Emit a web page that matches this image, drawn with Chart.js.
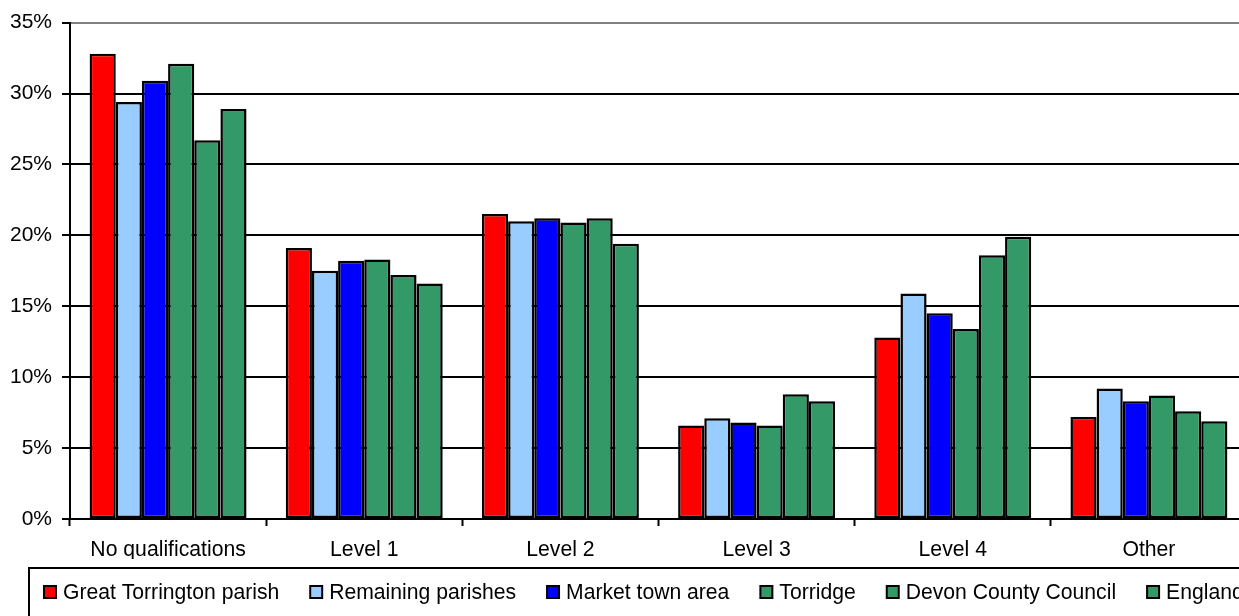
<!DOCTYPE html>
<html>
<head>
<meta charset="utf-8">
<script src="https://cdn.jsdelivr.net/npm/chart.js@4"></script>
<style>
  html, body { margin: 0; padding: 0; background: #fff; overflow: hidden; }
  #wrap { width: 1250px; height: 616px; }
</style>
</head>
<body>
<div id="wrap"><canvas id="qualChart" width="1250" height="616"></canvas></div>
<script>
// Highest qualification held, share of residents aged 16+
const categories = ['No qualifications', 'Level 1', 'Level 2', 'Level 3', 'Level 4', 'Other'];
const seriesNames = ['Great Torrington parish', 'Remaining parishes', 'Market town area', 'Torridge', 'Devon County Council', 'England'];
const seriesColors = ['#FF0000', '#99CCFF', '#0000FF', '#339966', '#339966', '#339966'];

const greatTorrington = [32.8, 19.1, 21.5, 6.6, 12.8, 7.2];
const remainingParishes = [29.4, 17.5, 21.0, 7.1, 15.9, 9.2];
const marketTownArea = [30.9, 18.2, 21.2, 6.8, 14.5, 8.3];
const torridge = [32.1, 18.3, 20.9, 6.6, 13.4, 8.7];
const devonCounty = [26.7, 17.2, 21.2, 8.8, 18.6, 7.6];
const england = [28.9, 16.6, 19.4, 8.3, 19.9, 6.9];

const yTicks = [0, 5, 10, 15, 20, 25, 30, 35];

const FONT = '"Liberation Sans", Arial, sans-serif';

// Boxed legend along the bottom edge
const boxedLegend = {
    id: 'boxedLegend',
    afterDraw(chart) {
        const c = chart.ctx;
        c.save();
        c.strokeStyle = '#000';
        c.lineWidth = 2;
        c.strokeRect(29, 568, chart.width + 20, 80);

        c.font = '21.15px ' + FONT;
        c.textBaseline = 'middle';
        let x = 44;
        const y = 592;
        chart.data.datasets.forEach(ds => {
            c.fillStyle = ds.backgroundColor;
            c.fillRect(x, y - 6, 12, 12);
            c.strokeStyle = '#000';
            c.lineWidth = 2;
            c.strokeRect(x, y - 6, 12, 12);
            c.fillStyle = '#000';
            c.fillText(ds.label, x + 19, y + 1);
            x += 19 + c.measureText(ds.label).width + 31;
        });
        c.restore();
    }
};

const allSeries = [greatTorrington, remainingParishes, marketTownArea, torridge, devonCounty, england];

new Chart(document.getElementById('qualChart'), {
    type: 'bar',
    data: {
        labels: categories,
        datasets: allSeries.map((vals, i) => ({
            label: seriesNames[i],
            data: vals,
            backgroundColor: seriesColors[i],
            borderColor: '#000',
            borderWidth: 2.5,
            borderSkipped: false,
            barPercentage: 1,
            categoryPercentage: 0.8
        }))
    },
    options: {
        responsive: false,
        animation: false,
        devicePixelRatio: 1,
        layout: { padding: { top: 20, right: 3, bottom: 57, left: 0 } },
        plugins: {
            legend: { display: false },
            tooltip: { enabled: false }
        },
        scales: {
            x: {
                afterFit: s => { s.height = 40; },
                border: { color: '#000', width: 2 },
                grid: {
                    offset: true,
                    drawOnChartArea: false,
                    drawTicks: true,
                    tickLength: 7,
                    tickColor: '#000',
                    tickWidth: 2
                },
                ticks: {
                    color: '#000',
                    padding: 11,
                    font: { family: FONT, size: 21.2 }
                }
            },
            y: {
                min: 0,
                max: 35,
                afterFit: s => { s.width = 70; },
                afterBuildTicks: s => { s.ticks = yTicks.map(v => ({ value: v })); },
                border: { color: '#000', width: 2 },
                grid: {
                    color: ctx => (ctx.tick && ctx.tick.value === 35 ? '#808080' : '#000'),
                    lineWidth: 2,
                    tickLength: 8,
                    tickColor: '#000',
                    tickWidth: 2
                },
                ticks: {
                    color: '#000',
                    padding: 10,
                    font: { family: FONT, size: 21 },
                    callback: v => v + '%'
                }
            }
        }
    },
    plugins: [boxedLegend]
});
</script>
</body>
</html>
